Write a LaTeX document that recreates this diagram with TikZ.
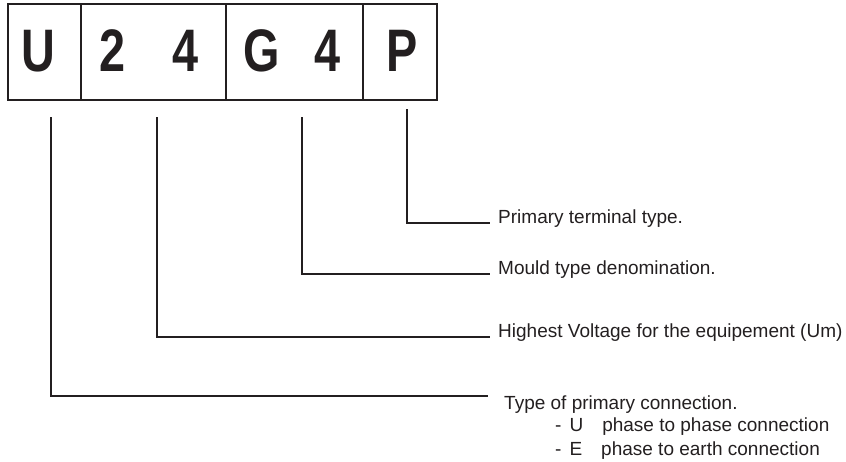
\documentclass[tikz,border=0pt]{standalone}
\usepackage{fontspec}
\setmainfont{Liberation Sans}
\newfontfamily\cellfont{Liberation Sans}[FakeStretch=0.78]
\definecolor{ink}{RGB}{35,31,32}

\begin{document}
\begin{tikzpicture}[x=1pt,y=-1pt,
  cell/.style={draw=ink,line width=2pt,minimum height=96pt,inner sep=0pt},
  letter/.style={font=\cellfont\bfseries\fontsize{60}{60}\selectfont,text=ink,inner sep=0pt,anchor=base},
  desc/.style={font=\fontsize{19}{22}\selectfont,text=ink,inner ysep=0pt,inner xsep=8pt,anchor=base west},
  lead/.style={draw=ink,line width=2pt}]
\useasboundingbox (0,0) rectangle (846,461);

% code boxes
\node[cell,minimum width=73pt] (cellU) at (44.5,52) {};
\node[cell,minimum width=145pt] (cellV) at (153.5,52) {};
\node[cell,minimum width=137pt] (cellG) at (294.5,52) {};
\node[cell,minimum width=74pt] (cellP) at (400,52) {};

\node[letter] (chU) at (38.5,71) {U};
\node[letter] (chV1) at (113,71) {2};
\node[letter] (chV2) at (185.5,71) {4};
\node[letter] (chG1) at (262,71) {G};
\node[letter] (chG2) at (327.5,71) {4};
\node[letter] (chP) at (402.5,71) {P};

% descriptions
\node[desc] (txtP) at (490,223) {Primary terminal type.};
\node[desc] (txtG) at (490,274) {Mould type denomination.};
\node[desc] (txtV) at (490,337) {Highest Voltage for the equipement (Um)};
\node[desc,inner xsep=16pt,anchor=north west] (txtU) at (488,396) {Type of primary connection.};
\node[desc,inner xsep=0pt] (txtU1) at (555,431) {-\hspace{8pt}U\hspace{19pt}phase to phase connection};
\node[desc,inner xsep=0pt] (txtU2) at (555,455) {-\hspace{8pt}E\hspace{19pt}phase to earth connection};

% leaders
\coordinate (srcU) at (51,117);
\coordinate (srcV) at (157,117);
\coordinate (srcG) at (302,117);
\coordinate (srcP) at (407,109);

\draw[lead] (srcP) |- (txtP.base west);
\draw[lead] (srcG) |- (txtG.base west);
\draw[lead] (srcV) |- (txtV.base west);
\draw[lead] (srcU) |- (txtU.north west);
\end{tikzpicture}
\end{document}
